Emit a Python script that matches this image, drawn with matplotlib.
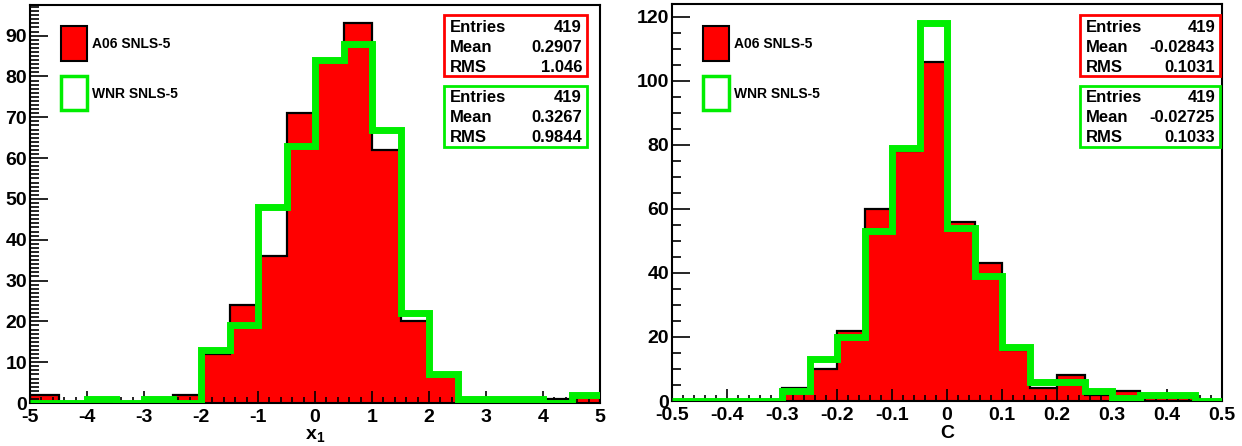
import numpy as np
import matplotlib
matplotlib.use("Agg")
import matplotlib.pyplot as plt
from matplotlib.patches import Rectangle
from matplotlib.ticker import MultipleLocator, FuncFormatter

plt.rcParams['font.family'] = ['Liberation Sans Narrow', 'Liberation Sans', 'DejaVu Sans']
plt.rcParams['font.weight'] = 'bold'
plt.rcParams['axes.labelweight'] = 'bold'
plt.rcParams['mathtext.fontset'] = 'custom'
plt.rcParams['mathtext.bf'] = 'Liberation Sans:bold'

# x1 histogram (bins of 0.5 from -5 to 5)
x1_edges = np.linspace(-5, 5, 21)
x1_a06 = [2, 0, 0, 0, 0, 2, 12, 24, 36, 71, 84, 93, 62, 20, 7, 1, 1, 0, 1, 2]
x1_wnr = [0, 0, 1, 0, 1, 0, 13, 19, 48, 63, 84, 88, 67, 22, 7, 1, 1, 1, 0, 2]

# colour histogram (bins of 0.05 from -0.5 to 0.5)
c_edges = np.linspace(-0.5, 0.5, 21)
c_a06 = [0, 0, 0, 0, 4, 10, 22, 60, 78, 106, 56, 43, 16, 4, 8, 2, 3, 1, 1, 0]
c_wnr = [0, 0, 0, 0, 3, 13, 20, 53, 79, 118, 54, 39, 17, 6, 6, 3, 1, 2, 2, 0]

labels = ["A06 SNLS-5", "WNR SNLS-5"]
x1_stats = [("419", "0.2907", "1.046"), ("419", "0.3267", "0.9844")]
c_stats = [("419", "-0.02843", "0.1031"), ("419", "-0.02725", "0.1033")]

W, H = 1242, 446
fig = plt.figure(figsize=(W / 100, H / 100), dpi=100)


def px(x0, y0, x1, y1):
    return [x0 / W, 1 - y1 / H, (x1 - x0) / W, (y1 - y0) / H]


def panel(rect, edges, a06, wnr, xlim, ylim, xmaj, xmin, ymaj, ymin, xlabel, stats, leg_x):
    ax = fig.add_axes(px(*rect))
    ax.stairs(a06, edges, fill=True, color='red', zorder=1)
    ax.stairs(a06, edges, color='black', lw=1.6, zorder=2)
    ax.stairs(wnr, edges, baseline=None, color='#00ee00', lw=5, zorder=3)
    ax.set_xlim(*xlim)
    ax.set_ylim(*ylim)
    ax.xaxis.set_major_locator(MultipleLocator(xmaj))
    ax.xaxis.set_minor_locator(MultipleLocator(xmin))
    ax.yaxis.set_major_locator(MultipleLocator(ymaj))
    ax.yaxis.set_minor_locator(MultipleLocator(ymin))
    ax.tick_params(axis='both', which='both', direction='in', width=1.2,
                   top=False, right=False, labelsize=14)
    ax.tick_params(axis='y', which='major', length=13, pad=2)
    ax.tick_params(axis='y', which='minor', length=6.5)
    ax.tick_params(axis='x', which='major', length=8.5, pad=4)
    ax.tick_params(axis='x', which='minor', length=4.5)
    ax.xaxis.set_major_formatter(FuncFormatter(lambda v, p: f"{round(v, 6):g}"))
    for s in ax.spines.values():
        s.set_linewidth(1.5)
    ax.set_xlabel(xlabel, fontsize=14, labelpad=1)

    # legend
    lx = leg_x
    fig.patches.append(Rectangle((lx / W, 1 - 61 / H), 26 / W, 35 / H, transform=fig.transFigure,
                                 facecolor='red', edgecolor='black', lw=1.5))
    fig.patches.append(Rectangle((lx / W, 1 - 110 / H), 26 / W, 34 / H, transform=fig.transFigure,
                                 facecolor='white', edgecolor='#00ee00', lw=2.5))
    fig.text((lx + 31) / W, 1 - 44 / H, labels[0], fontsize=10, va='center')
    fig.text((lx + 31) / W, 1 - 94 / H, labels[1], fontsize=10, va='center')

    # stats boxes
    bx0, bx1 = stats[0]
    for (ent, mean, rms), col, top in zip(stats[1], ['red', '#00ee00'], [15, 86]):
        fig.patches.append(Rectangle((bx0 / W, 1 - (top + 61) / H), (bx1 - bx0) / W, 61 / H,
                                     transform=fig.transFigure, facecolor='white',
                                     edgecolor=col, lw=2))
        for i, (k, v) in enumerate([("Entries", ent), ("Mean", mean), ("RMS", rms)]):
            yy = 1 - (top + 12 + i * 20) / H
            fig.text((bx0 + 6) / W, yy, k, fontsize=12, va='center')
            fig.text((bx1 - 5) / W, yy, v, fontsize=12, va='center', ha='right')
    return ax


panel((30, 5, 600, 403), x1_edges, x1_a06, x1_wnr, (-5, 5), (0, 97.5), 1, 0.2, 10, 1,
      r"$\mathbf{x_1}$", ((444, 587), x1_stats), 61)
panel((672, 4, 1222, 401), c_edges, c_a06, c_wnr, (-0.5, 0.5), (0, 124), 0.1, 0.02, 20, 5,
      "C", ((1080, 1220), c_stats), 703)

fig.savefig("out.png", dpi=100)
